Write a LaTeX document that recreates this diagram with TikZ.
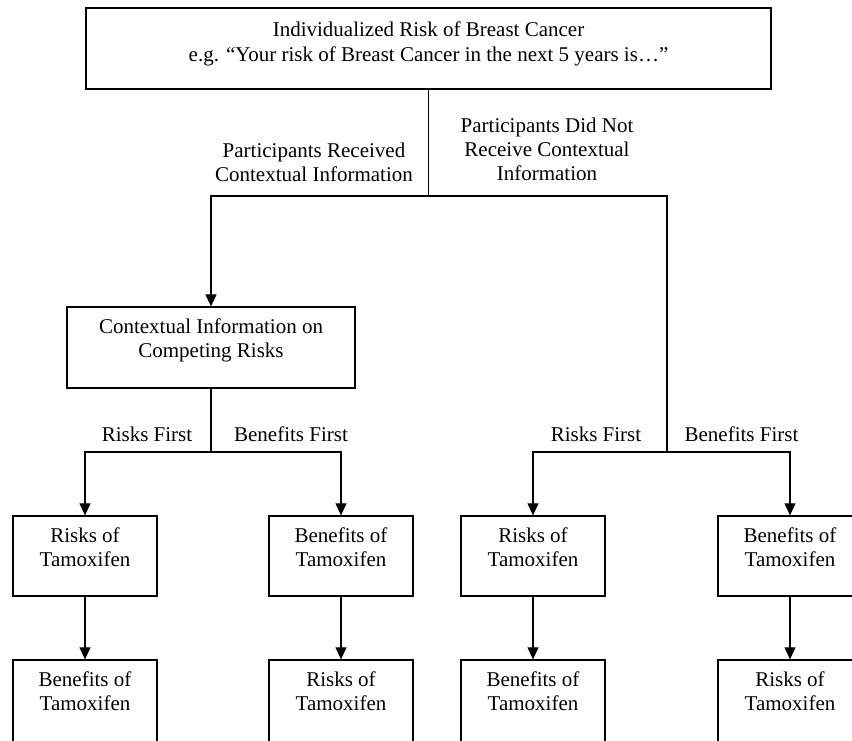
\documentclass[tikz,border=0pt]{standalone}
\usepackage{fontspec}
\setmainfont{Liberation Serif}
\usetikzlibrary{arrows.meta}
\begin{document}
\begin{tikzpicture}[x=1pt,y=-1pt,
  box/.style={draw, line width=1.3pt, inner sep=0pt, minimum width=144pt, minimum height=80pt},
  txt/.style={font=\fontsize{21}{24}\selectfont, align=center, inner sep=0pt},
  conn/.style={line width=1.2pt},
  arr/.style={conn, -{Triangle[length=12pt,width=11pt]}}]
\useasboundingbox (0,0) rectangle (852,740);
\clip (0,0) rectangle (852,740);
\fill[white] (0,0) rectangle (852,740);

% top box
\node[box, minimum width=685pt, minimum height=81pt] (top) at (428.5,48.5) {};
\node[txt, font=\fontsize{21}{25}\selectfont, anchor=center] (topt) at ([yshift=-36.5pt]top.north)
  {\strut Individualized Risk of Breast Cancer\\\strut e.g. “Your risk of Breast Cancer in the next 5 years is…”};

% branch labels
\node[txt] (lrec) at (314,164.2) {\strut Participants Received\\\strut Contextual Information};
\node[txt] (lnot) at (547,151.2) {\strut Participants Did Not\\\strut Receive Contextual\\\strut Information};

% contextual box
\node[box, minimum width=288pt, minimum height=81pt] (ctx) at (211,347.5) {};
\node[txt] (ctxt) at ([yshift=-34.2pt]ctx.north) {\strut Contextual Information on\\\strut Competing Risks};

% order labels
\node[txt] (lrf1) at (147,436.2) {\strut Risks First};
\node[txt] (lbf1) at (291,436.2) {\strut Benefits First};
\node[txt] (lrf2) at (596,436.2) {\strut Risks First};
\node[txt] (lbf2) at (741.5,436.2) {\strut Benefits First};

% first row of boxes
\node[box] (b1) at (85,556) {};
\node[box] (b2) at (341,556) {};
\node[box] (b3) at (533,556) {};
\node[box] (b4) at (790,556) {};
\node[txt] (b1t) at ([yshift=-34.2pt]b1.north) {\strut Risks of\\\strut Tamoxifen};
\node[txt] (b2t) at ([yshift=-34.2pt]b2.north) {\strut Benefits of\\\strut Tamoxifen};
\node[txt] (b3t) at ([yshift=-34.2pt]b3.north) {\strut Risks of\\\strut Tamoxifen};
\node[txt] (b4t) at ([yshift=-34.2pt]b4.north) {\strut Benefits of\\\strut Tamoxifen};

% second row of boxes (cut by the bottom edge)
\node[box, minimum height=90pt] (b5) at (85,705) {};
\node[box, minimum height=90pt] (b6) at (341,705) {};
\node[box, minimum height=90pt] (b7) at (533,705) {};
\node[box, minimum height=90pt] (b8) at (790,705) {};
\node[txt] (b5t) at ([yshift=-34.2pt]b5.north) {\strut Benefits of\\\strut Tamoxifen};
\node[txt] (b6t) at ([yshift=-34.2pt]b6.north) {\strut Risks of\\\strut Tamoxifen};
\node[txt] (b7t) at ([yshift=-34.2pt]b7.north) {\strut Benefits of\\\strut Tamoxifen};
\node[txt] (b8t) at ([yshift=-34.2pt]b8.north) {\strut Risks of\\\strut Tamoxifen};

% junctions
\coordinate (j0) at (428.5,196);
\coordinate (jl) at (211,452);
\coordinate (jr) at (667,452);

% connectors
\draw[conn] (top.south) -- (j0);
\draw[arr] (j0) -| (ctx.north);
\draw[conn] (j0) -| (jr);
\draw[conn] (ctx.south) -- (jl);
\draw[arr] (jl) -| (b1.north);
\draw[arr] (jl) -| (b2.north);
\draw[arr] (jr) -| (b3.north);
\draw[arr] (jr) -| (b4.north);
\draw[arr] (b1.south) -- (b5.north);
\draw[arr] (b2.south) -- (b6.north);
\draw[arr] (b3.south) -- (b7.north);
\draw[arr] (b4.south) -- (b8.north);
\end{tikzpicture}
\end{document}
